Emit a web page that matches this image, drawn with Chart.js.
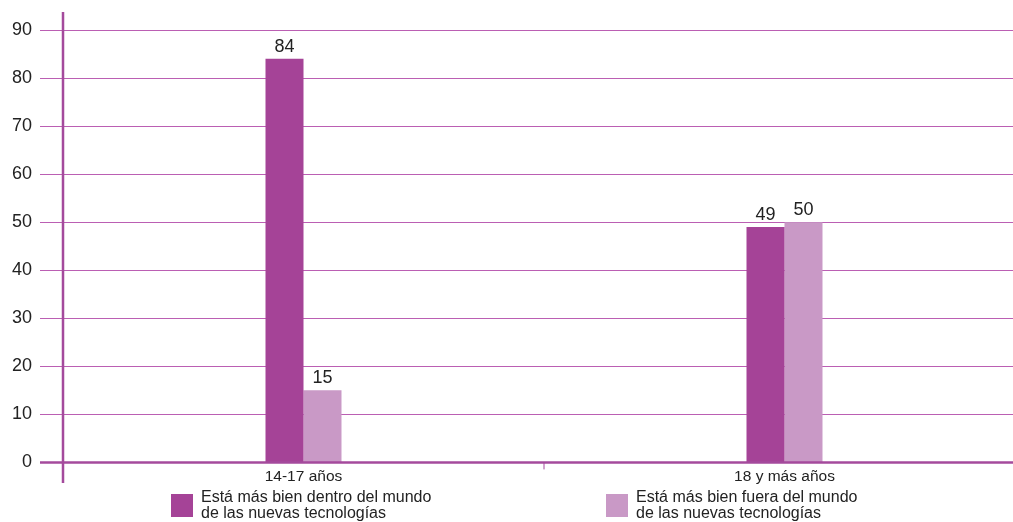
<!DOCTYPE html>
<html>
<head>
<meta charset="utf-8">
<script src="https://cdn.jsdelivr.net/npm/chart.js@4"></script>
<style>
    html, body { margin: 0; padding: 0; background: #fff; overflow: hidden; }
    #wrap { position: relative; width: 1013px; height: 522px; overflow: hidden; }
    #chart { position: absolute; left: 0; top: 0; }
    .leg { position: absolute; top: 489px; font-family: 'Liberation Sans', Arial, sans-serif; font-size: 16px; line-height: 16px; color: #222; }
    .leg .box { position: absolute; left: 0; top: 5px; width: 22px; height: 23px; }
    .leg .txt { position: absolute; left: 30px; top: 0; white-space: nowrap; }
</style>
</head>
<body>
<div id="wrap">
    <canvas id="chart" width="1030" height="522"></canvas>
    <div class="leg" style="left:171px"><div class="box" style="background:#a54397"></div><div class="txt">Está más bien dentro del mundo<br>de las nuevas tecnologías</div></div>
    <div class="leg" style="left:606px"><div class="box" style="background:#c999c6"></div><div class="txt">Está más bien fuera del mundo<br>de las nuevas tecnologías</div></div>
</div>
<script>
const categories = ['14-17 años', '18 y más años'];
const dentroValues = [84, 49];
const fueraValues = [15, 50];
const seriesLabels = ['Está más bien dentro del mundo de las nuevas tecnologías', 'Está más bien fuera del mundo de las nuevas tecnologías'];

const FONT = "'Liberation Sans', Arial, sans-serif";

// value labels above each bar + custom axis lines and category separator
const decorPlugin = {
    id: 'decor',
    afterDatasetsDraw(chart) {
        const ctx = chart.ctx;
        ctx.save();
        ctx.fillStyle = '#222';
        ctx.font = '18px ' + FONT;
        ctx.textAlign = 'center';
        ctx.textBaseline = 'bottom';
        chart.data.datasets.forEach((ds, i) => {
            chart.getDatasetMeta(i).data.forEach((bar, j) => {
                ctx.fillText(ds.data[j], bar.x, bar.y - 3);
            });
        });
        const area = chart.chartArea;
        ctx.strokeStyle = '#a44a9c';
        // zero line
        ctx.lineWidth = 2.5;
        ctx.beginPath();
        ctx.moveTo(40, area.bottom);
        ctx.lineTo(chart.width, area.bottom);
        ctx.stroke();
        // vertical axis
        ctx.beginPath();
        ctx.moveTo(area.left, 12);
        ctx.lineTo(area.left, 483);
        ctx.stroke();
        ctx.lineWidth = 1;
        const mid = (area.left + area.right) / 2;
        ctx.beginPath();
        ctx.moveTo(mid, area.bottom);
        ctx.lineTo(mid, area.bottom + 7);
        ctx.stroke();
        ctx.restore();
    }
};

new Chart(document.getElementById('chart'), {
    type: 'bar',
    data: {
        labels: categories,
        datasets: [
            {
                label: seriesLabels[0],
                data: dentroValues,
                backgroundColor: '#a54397',
                barPercentage: 1,
                categoryPercentage: 0.158
            },
            {
                label: seriesLabels[1],
                data: fueraValues,
                backgroundColor: '#c999c6',
                barPercentage: 1,
                categoryPercentage: 0.158
            }
        ]
    },
    options: {
        responsive: false,
        animation: false,
        layout: { padding: { top: 30, right: 5, bottom: 31, left: 0 } },
        plugins: {
            legend: { display: false },
            tooltip: { enabled: false }
        },
        scales: {
            x: {
                grid: { display: false, drawTicks: false },
                border: { display: false },
                ticks: { color: '#222', font: { family: FONT, size: 15.5 }, padding: 5 }
            },
            y: {
                min: 0,
                max: 90,
                afterFit: scale => { scale.width = 63; },
                ticks: { stepSize: 10, color: '#222', font: { family: FONT, size: 18 }, padding: 8 },
                border: { display: false },
                grid: {
                    color: '#bb5fb3',
                    lineWidth: 1,
                    tickLength: 23
                }
            }
        }
    },
    plugins: [decorPlugin]
});
</script>
</body>
</html>
